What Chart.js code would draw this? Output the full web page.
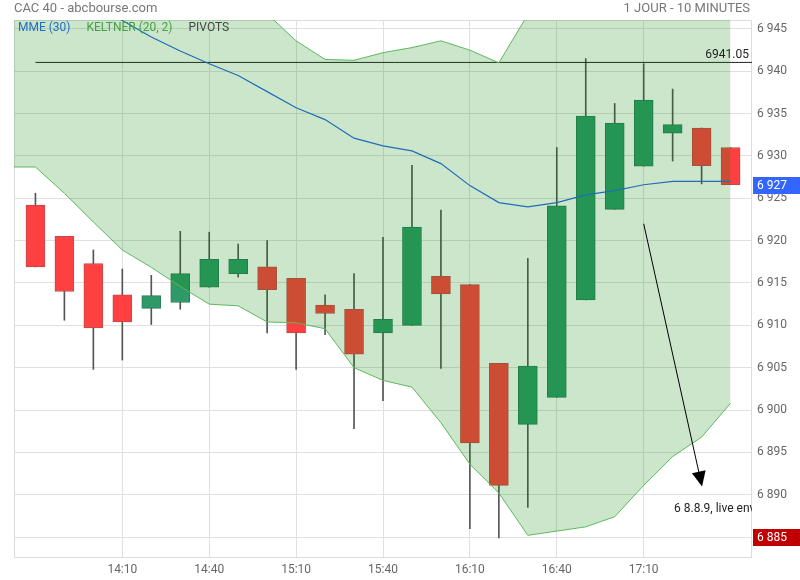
<!DOCTYPE html>
<html>
<head>
<meta charset="utf-8">
<script src="https://cdn.jsdelivr.net/npm/chart.js@4/dist/chart.umd.min.js"></script>
<style>
html,body{margin:0;padding:0;background:#fff;}
#wrap{width:800px;height:580px;position:relative;}
</style>
</head>
<body>
<div id="wrap"><canvas id="c" width="800" height="580"></canvas></div>
<script>
// ---- data ----
const times = ['13:40','13:50','14:00','14:10','14:20','14:30','14:40','14:50','15:00','15:10','15:20','15:30','15:40','15:50','16:00','16:10','16:20','16:30','16:40','16:50','17:00','17:10','17:20','17:30','17:40'];
const opens  = [6924.2,6920.5,6917.3,6913.6,6912.0,6912.7,6914.5,6916.1,6916.9,6915.55,6912.4,6911.9,6909.1,6910.0,6915.8,6914.8,6905.5,6898.3,6901.5,6913.0,6923.7,6928.8,6932.7,6933.3,6931.0];
const highs  = [6925.6,6920.5,6918.9,6916.65,6915.9,6921.1,6921.0,6919.6,6920.0,6915.55,6913.6,6916.1,6920.4,6928.9,6923.6,6914.8,6905.5,6917.9,6931.0,6941.5,6936.2,6940.9,6937.9,6933.3,6931.0];
const lows   = [6916.9,6910.6,6904.8,6905.9,6910.1,6911.9,6914.5,6915.7,6909.1,6904.8,6908.9,6897.8,6901.1,6910.0,6904.9,6886.0,6884.9,6888.5,6901.5,6913.0,6923.7,6928.8,6929.4,6926.7,6926.6];
const closes = [6916.9,6914.0,6909.7,6910.4,6913.5,6916.1,6917.8,6917.8,6914.2,6909.1,6911.4,6906.6,6910.7,6921.6,6913.7,6896.1,6891.1,6905.2,6924.1,6934.7,6933.9,6936.6,6933.7,6928.85,6926.6];
const ema30  = [6951,6949.5,6947.8,6946.0,6944.05,6942.4,6940.9,6939.5,6937.6,6935.7,6934.3,6932.1,6931.2,6930.6,6929.1,6926.5,6924.5,6924.0,6924.5,6925.4,6925.9,6926.6,6927.0,6927.0,6927.0];
// Keltner bands start one period before the first candle (index -1)
const keltnerStart = -1;
const keltnerUpper = [6957,6956,6955,6954,6953,6952,6951,6950,6949,6946.8,6943.6,6941.4,6941.3,6942.2,6942.8,6943.6,6942.5,6941.0,6946.7,6950,6952,6953,6953,6953,6952,6951];
const keltnerLower = [6928.7,6928.7,6925.6,6922.2,6918.9,6916.85,6914.6,6912.5,6912.3,6910.4,6910.3,6909.6,6905.0,6903.5,6902.7,6898.5,6893.6,6890.2,6885.2,6885.7,6886.2,6887.4,6891.1,6894.5,6896.8,6900.8];
const pivotLevel = 6941.05;
const pivotLabel = '6941.05';
const yTicks = [6885,6890,6895,6900,6905,6910,6915,6920,6925,6930,6935,6940,6945];
const xTickIdx = [3,6,9,12,15,18,21];
const lastPrice = 6926.6;
const lowMarker = 6885;
const arrowFrom = [21, 6922.0];
const arrowTo = [23, 6891.2];
const noteAt = [22.05, 6888.3];
const noteText = '6 8.8.9, live environment';
const titleLeft = 'CAC 40 - abcbourse.com';
const titleRight = '1 JOUR - 10 MINUTES';
const legendItems = ['MME (30)', 'KELTNER (20, 2)', 'PIVOTS'];

// ---- helpers ----
const fmt = v => String(Math.round(v)).replace(/\B(?=(\d{3})+(?!\d))/g, ' ');
const FONT = 'Roboto, "Liberation Sans", sans-serif';
const RED = '#ff4040', GREEN = '#2e9a67';
const isUp = i => closes[i] >= opens[i];

const bodies = times.map((t,i)=>({x:i, y:[opens[i], closes[i]]}));
const wicks = times.map((t,i)=>({x:i, y:[lows[i], highs[i]]}));
const emaPts = ema30.map((v,i)=>({x:i, y:v}));
const upPts = keltnerUpper.map((v,i)=>({x:keltnerStart+i, y:v}));
const loPts = keltnerLower.map((v,i)=>({x:keltnerStart+i, y:v}));
const pivPts = [{x:0, y:pivotLevel},{x:times.length+1, y:pivotLevel}];

const overlay = {
  id:'overlay',
  beforeDatasetsDraw(chart){
    const {ctx, chartArea:a} = chart;
    ctx.save();
    ctx.strokeStyle = '#dcdcdc';
    ctx.lineWidth = 1;
    ctx.strokeRect(Math.round(a.left)+0.5, Math.round(a.top)+0.5, Math.round(a.right-a.left)-1, Math.round(a.bottom-a.top));
    ctx.restore();
  },
  afterDraw(chart){
    const {ctx, chartArea:a, scales:{x, y}} = chart;
    ctx.save();
    // titles
    ctx.font = '13px ' + FONT;
    ctx.fillStyle = '#777';
    ctx.textBaseline = 'middle';
    ctx.textAlign = 'left';
    ctx.fillText(titleLeft, 14, 9);
    ctx.textAlign = 'right';
    ctx.fillText(titleRight, 750, 9);
    // legend
    ctx.font = '12px ' + FONT;
    ctx.textAlign = 'left';
    const lc = ['#1f6cc4', '#45a045', '#444'];
    let lx = 18;
    legendItems.forEach((s,i)=>{
      ctx.fillStyle = lc[i];
      ctx.fillText(s, lx, 28);
      lx += ctx.measureText(s).width + 16;
    });
    // pivot label
    ctx.fillStyle = '#222';
    ctx.textAlign = 'right';
    ctx.textBaseline = 'alphabetic';
    ctx.fillText(pivotLabel, a.right - 3, y.getPixelForValue(pivotLevel) - 4);
    // arrow + note (clipped to chart area)
    ctx.save();
    ctx.beginPath();
    ctx.rect(a.left, a.top, a.right - a.left, a.bottom - a.top);
    ctx.clip();
    const x1 = x.getPixelForValue(arrowFrom[0]), y1 = y.getPixelForValue(arrowFrom[1]);
    const x2 = x.getPixelForValue(arrowTo[0]), y2 = y.getPixelForValue(arrowTo[1]);
    ctx.strokeStyle = '#000';
    ctx.lineWidth = 1;
    ctx.beginPath(); ctx.moveTo(x1,y1); ctx.lineTo(x2,y2); ctx.stroke();
    const ang = Math.atan2(y2-y1, x2-x1);
    const L = 13, W = 7;
    ctx.fillStyle = '#000';
    ctx.beginPath();
    ctx.moveTo(x2 + 2*Math.cos(ang), y2 + 2*Math.sin(ang));
    ctx.lineTo(x2 - L*Math.cos(ang) + W*Math.sin(ang), y2 - L*Math.sin(ang) - W*Math.cos(ang));
    ctx.lineTo(x2 - L*Math.cos(ang) - W*Math.sin(ang), y2 - L*Math.sin(ang) + W*Math.cos(ang));
    ctx.closePath(); ctx.fill();
    ctx.font = '12px ' + FONT;
    ctx.fillStyle = '#222';
    ctx.textAlign = 'left';
    ctx.textBaseline = 'middle';
    ctx.fillText(noteText, x.getPixelForValue(noteAt[0]), y.getPixelForValue(noteAt[1]));
    ctx.restore();
    // price tags
    const tag = (v, bg) => {
      const py = y.getPixelForValue(v);
      ctx.fillStyle = bg;
      ctx.fillRect(a.right + 1, Math.round(py) - 8, 800 - a.right, 17);
      ctx.fillStyle = '#fff';
      ctx.font = '12px ' + FONT;
      ctx.textAlign = 'left';
      ctx.textBaseline = 'middle';
      ctx.fillText(fmt(v), a.right + 5, Math.round(py) + 1);
    };
    tag(lastPrice, '#3366ff');
    tag(lowMarker, '#c00000');
    ctx.restore();
  }
};

new Chart(document.getElementById('c'), {
  type: 'bar',
  data: {
    datasets: [
      { type:'line', label:'EMA', data: emaPts, borderColor:'#1f6db4', borderWidth:1.2, pointRadius:0, fill:false, order:0, tension:0 },
      { type:'line', label:'KLower', data: loPts, borderColor:'#5cb85c', borderWidth:1, pointRadius:0, fill:false, order:1, tension:0 },
      { type:'line', label:'KUpper', data: upPts, borderColor:'#5cb85c', borderWidth:1, pointRadius:0, fill:'-1', backgroundColor:'rgba(0,128,0,0.2)', order:1, tension:0 },
      { type:'line', label:'Pivot', data: pivPts, borderColor:'#222', borderWidth:1, pointRadius:0, fill:false, order:2 },
      { label:'Body', data: bodies, grouped:false, barThickness:19,
        backgroundColor: times.map((t,i)=> isUp(i) ? GREEN : RED),
        borderColor: times.map((t,i)=> isUp(i) ? '#2a7d55' : '#c24a4a'),
        borderWidth:1, borderSkipped:false, order:3 },
      { label:'Wick', data: wicks, grouped:false, barThickness:1, backgroundColor:'#555', borderWidth:0, order:4 }
    ]
  },
  options: {
    responsive:false,
    animation:false,
    events:[],
    layout:{ padding:{ left:14, top:20, right:0, bottom:0 } },
    plugins:{ legend:{display:false}, tooltip:{enabled:false}, title:{display:false} },
    scales:{
      x:{
        type:'linear', min:-0.74, max:24.74, offset:false,
        afterBuildTicks: s => { s.ticks = xTickIdx.map(v=>({value:v})); },
        afterFit: s => { s.height = 23; },
        grid:{ color:'#e0e0e0', drawTicks:false, offset:false },
        border:{ display:false },
        ticks:{ autoSkip:false, maxRotation:0, padding:6, color:'#666', font:{ family:FONT, size:12 },
          callback: v => times[v] }
      },
      y:{
        type:'linear', position:'right', min:6882.64, max:6946.06,
        afterBuildTicks: s => { s.ticks = yTicks.map(v=>({value:v})); },
        afterFit: s => { s.width = 48; },
        grid:{ color:'#e0e0e0', drawTicks:false },
        border:{ display:false },
        ticks:{ padding:5, color:'#666', font:{ family:FONT, size:12 }, callback: v => fmt(v) }
      }
    }
  },
  plugins:[overlay]
});
</script>
</body>
</html>
